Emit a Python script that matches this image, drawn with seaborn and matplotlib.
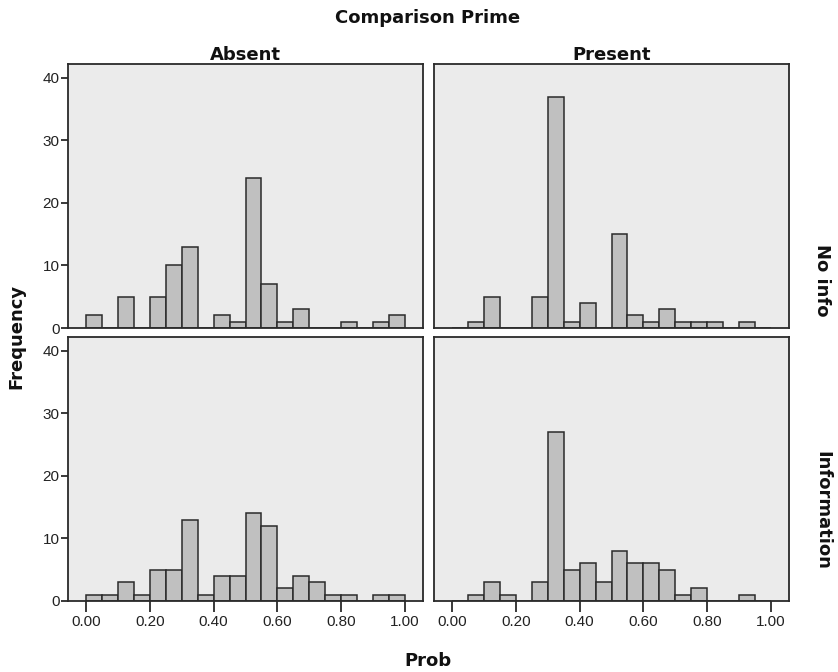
import numpy as np
import pandas as pd
import matplotlib
matplotlib.use("Agg")
import matplotlib.pyplot as plt
import seaborn as sns

# ---- data (counts per 0.05-wide bin of Prob, 0.00 .. 1.00) ----
bin_edges = [round(0.05 * i, 2) for i in range(21)]
noinfo_absent = [2, 0, 5, 0, 5, 10, 13, 0, 2, 1, 24, 7, 1, 3, 0, 0, 1, 0, 1, 2]
noinfo_present = [0, 1, 5, 0, 0, 5, 37, 1, 4, 0, 15, 2, 1, 3, 1, 1, 1, 0, 1, 0]
info_absent = [1, 1, 3, 1, 5, 5, 13, 1, 4, 4, 14, 12, 2, 4, 3, 1, 1, 0, 1, 1]
info_present = [0, 1, 3, 1, 0, 3, 27, 5, 6, 3, 8, 6, 6, 5, 1, 2, 0, 0, 1, 0]
col_labels = ["Absent", "Present"]
row_labels = ["No info", "Information"]
x_ticks = [0.0, 0.2, 0.4, 0.6, 0.8, 1.0]
x_tick_labels = ["0.00", "0.20", "0.40", "0.60", "0.80", "1.00"]
y_ticks = [0, 10, 20, 30, 40]

sns.set_theme(style="white")
plt.rcParams['font.family'] = ['Liberation Sans', 'DejaVu Sans']
HEAD = dict(family=['DejaVu Sans'], fontsize=13, fontweight="bold", color="#111111")

centers = [(bin_edges[i] + bin_edges[i + 1]) / 2 for i in range(20)]
rows = []
for r, c, vals in [(row_labels[0], col_labels[0], noinfo_absent),
                   (row_labels[0], col_labels[1], noinfo_present),
                   (row_labels[1], col_labels[0], info_absent),
                   (row_labels[1], col_labels[1], info_present)]:
    for x, w in zip(centers, vals):
        rows.append({"row": r, "col": c, "Prob": x, "count": w})
df = pd.DataFrame(rows)

W, H = 838, 672
fig = plt.figure(figsize=(W / 100, H / 100), dpi=100)
fig.patch.set_facecolor("white")

lefts = [68, 434]
tops = [64, 337]
pw, ph = 355, 264

for ri, rlab in enumerate(row_labels):
    for ci, clab in enumerate(col_labels):
        ax = fig.add_axes([lefts[ci] / W, 1 - (tops[ri] + ph) / H, pw / W, ph / H])
        ax.set_facecolor("#ebebeb")
        sub = df[(df["row"] == rlab) & (df["col"] == clab)]
        sns.histplot(data=sub, x="Prob", weights="count", bins=bin_edges,
                     color="#c0c0c0", edgecolor="#2a2a2a", linewidth=1.1,
                     alpha=1, ax=ax)
        ax.set_xlim(-0.0565, 1.0565)
        ax.set_ylim(0, 42.2)
        ax.set_xlabel("")
        ax.set_ylabel("")
        for s in ax.spines.values():
            s.set_color("#2a2a2a")
            s.set_linewidth(1.3)
        if ci == 0:
            ax.set_yticks(y_ticks)
            ax.set_yticklabels([str(t) for t in y_ticks])
            ax.tick_params(axis="y", left=True, length=5, width=1.3,
                           color="#2a2a2a", pad=1, labelsize=11,
                           labelcolor="#222222")
        else:
            ax.set_yticks([])
        if ri == 1:
            ax.set_xticks(x_ticks)
            ax.set_xticklabels(x_tick_labels)
            ax.tick_params(axis="x", bottom=True, length=8, width=1.3,
                           color="#2a2a2a", pad=2, labelsize=11,
                           labelcolor="#222222")
        else:
            ax.set_xticks([])
        if ri == 0:
            ax.set_title(clab, pad=3, **HEAD)

fig.text(428 / W, 1 - 18 / H, "Comparison Prime", ha="center", va="center", **HEAD)
fig.text(428 / W, 1 - 661 / H, "Prob", ha="center", va="center", **HEAD)
fig.text(16 / W, 1 - 336 / H, "Frequency", ha="center", va="center",
         rotation=90, **HEAD)
fig.text(822 / W, 1 - 280 / H, row_labels[0], ha="center", va="center",
         rotation=-90, **HEAD)
fig.text(822 / W, 1 - 510 / H, row_labels[1], ha="center", va="center",
         rotation=-90, **HEAD)

fig.savefig("out.png", dpi=100, facecolor="white")
